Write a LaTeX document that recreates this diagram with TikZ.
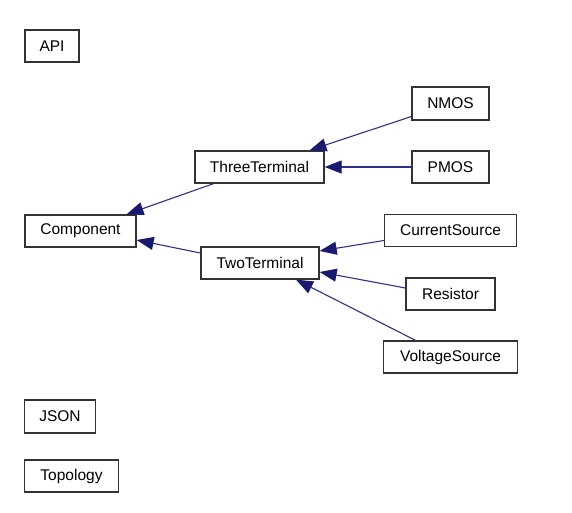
\documentclass[tikz,border=0pt]{standalone}
\usepackage{fontspec}
\setmainfont{Liberation Sans}
\usetikzlibrary{arrows.meta}
\definecolor{edgeblue}{RGB}{48,48,135}
\definecolor{tipblue}{RGB}{25,25,112}

\begin{document}
\begin{tikzpicture}[x=1pt, y=-1pt,
    cls/.style={draw=black!80, line width=1.3pt, fill=white, inner sep=0pt,
        minimum height=32pt, font=\fontsize{15.5}{18}\selectfont},
    inh/.style={draw=edgeblue, line width=1.1pt,
        -{Triangle[length=17pt, width=13pt, color=tipblue, fill=tipblue]}}]
    \useasboundingbox (0,0) rectangle (572,512);

    % Draw classes
    \node[cls, minimum width=54pt] (api) at (52,46) {API};
    \node[cls, minimum width=77pt, minimum height=33pt] (nmos) at (450.5,103.5) {NMOS};
    \node[cls, minimum width=129pt] (three) at (259.5,167) {ThreeTerminal};
    \node[cls, minimum width=77pt] (pmos) at (450.5,167) {PMOS};
    \node[cls, minimum width=111pt] (comp) at (80.5,231) {Component};
    \node[cls, minimum width=132pt] (cur) at (450.5,230.5) {CurrentSource};
    \node[cls, minimum width=118pt] (two) at (260,263) {TwoTerminal};
    \node[cls, minimum width=89pt] (res) at (450.5,294) {Resistor};
    \node[cls, minimum width=134pt] (volt) at (450.5,357) {VoltageSource};
    \node[cls, minimum width=71pt, minimum height=33pt] (json) at (60,416.5) {JSON};
    \node[cls, minimum width=94pt] (topo) at (71.5,476) {Topology};

    % Draw inheritance arrows
    \draw[inh] ([xshift=-46pt]three.south) -- ([xshift=46pt]comp.north);
    \draw[inh] ([yshift=10pt]two.west) -- ([yshift=-9pt]comp.east);
    \draw[inh] ([yshift=-13pt]nmos.west) -- ([xshift=50pt]three.north);
    \draw[inh] (pmos.west) -- (three.east);
    \draw[inh] ([yshift=-10pt]cur.west) -- ([yshift=12pt]two.east);
    \draw[inh] ([yshift=6pt]res.west) -- ([yshift=-9pt]two.east);
    \draw[inh] ([xshift=-35pt]volt.north) -- ([xshift=36pt]two.south);
\end{tikzpicture}
\end{document}
